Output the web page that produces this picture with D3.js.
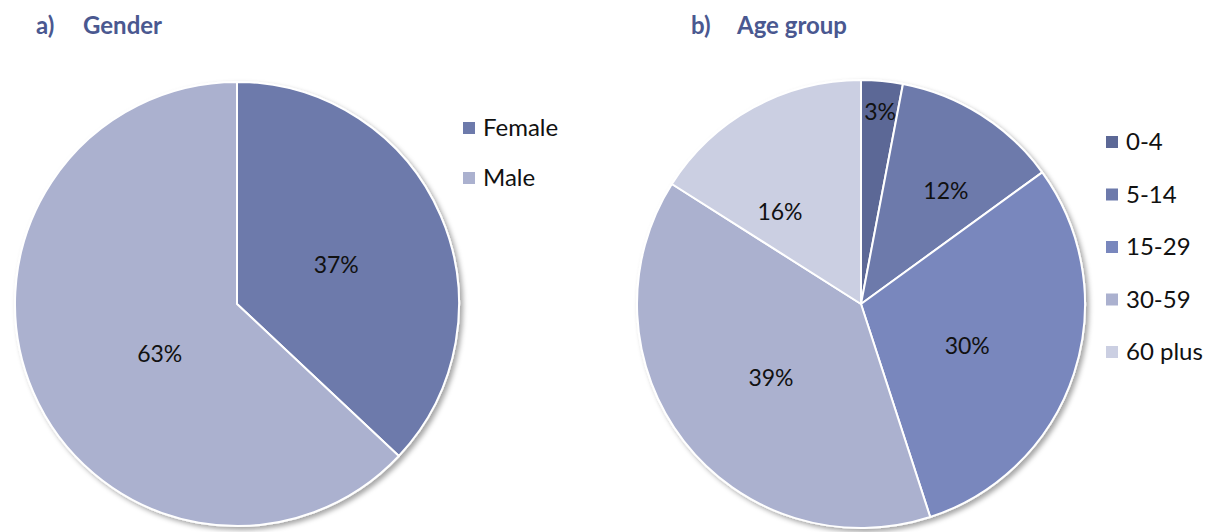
<!DOCTYPE html>
<html><head><meta charset="utf-8">
<script src="https://cdn.jsdelivr.net/npm/d3@7/dist/d3.min.js"></script>
<style>body{margin:0;background:#fff;} svg{display:block;}</style>
</head><body>
<svg id="chart" width="1207" height="532"></svg>
<script>
const genderCategories = ["Female", "Male"];
const genderValues = [37, 63];
const genderColors = ["#6d7aab", "#abb1cf"];

const ageCategories = ["0-4", "5-14", "15-29", "30-59", "60 plus"];
const ageValues = [3, 12, 30, 39, 16];
const ageColors = ["#5c6896", "#6d7aab", "#7987bd", "#abb1cf", "#cbcfe2"];

const titles = [["a)", "Gender"], ["b)", "Age group"]];

const svg = d3.select("#chart");
const font = "Lato, 'Open Sans', sans-serif";

const defs = svg.append("defs");
const f = defs.append("filter").attr("id", "sh").attr("x", "-10%").attr("y", "-10%").attr("width", "125%").attr("height", "125%");
f.append("feDropShadow").attr("dx", 3).attr("dy", 3).attr("stdDeviation", 2.5).attr("flood-color", "#000").attr("flood-opacity", 0.35);

function drawPie(cfg) {
  const g = svg.append("g").attr("transform", `translate(${cfg.cx},${cfg.cy})`);
  const data = cfg.cats.map((c, i) => ({cat: c, value: cfg.values[i], color: cfg.colors[i]}));
  const pie = d3.pie().value(d => d.value).sort(null);
  const arcs = pie(data);
  const arc = d3.arc().innerRadius(0).outerRadius(cfg.r);
  const total = d3.sum(cfg.values);
  g.append("g").attr("filter", "url(#sh)")
    .selectAll("path").data(arcs).join("path")
    .attr("d", arc).attr("fill", d => d.data.color)
    .attr("stroke", "#fff").attr("stroke-width", 2).attr("stroke-linejoin", "round");
  g.selectAll("text.lbl").data(arcs).join("text").attr("class", "lbl")
    .attr("transform", (d, i) => {
      const lr = cfg.r * cfg.labelFrac[i];
      const a = (d.startAngle + d.endAngle) / 2 + cfg.labelShift[i];
      return `translate(${Math.sin(a) * lr},${-Math.cos(a) * lr})`;
    })
    .attr("text-anchor", "middle").attr("dy", "0.35em")
    .attr("font-family", font).attr("font-size", 23).attr("fill", "#111")
    .text(d => Math.round(d.data.value / total * 100) + "%");

  const lg = svg.append("g").attr("transform", `translate(${cfg.lx},${cfg.ly})`);
  const items = lg.selectAll("g").data(data).join("g")
    .attr("transform", (d, i) => `translate(0,${i * cfg.lstep})`);
  items.append("rect").attr("x", 0).attr("y", -6).attr("width", 12).attr("height", 12).attr("fill", d => d.color);
  items.append("text").attr("x", 20).attr("y", 0).attr("dy", "0.35em")
    .attr("font-family", font).attr("font-size", 24).attr("fill", "#111").text(d => d.cat);
}

drawPie({cx: 237, cy: 304, r: 222, cats: genderCategories, values: genderValues, colors: genderColors,
  labelFrac: [0.48, 0.415], labelShift: [0.035, -0.167], lx: 463, ly: 128, lstep: 50});
drawPie({cx: 861, cy: 304, r: 224, cats: ageCategories, values: ageValues, colors: ageColors,
  labelFrac: [0.86, 0.63, 0.51, 0.52, 0.547], labelShift: [0.005, 0.08, 0.063, -0.028, -0.22],
  lx: 1106, ly: 142, lstep: 52.5});

const tpos = [[36, 83], [691, 737]];
titles.forEach((t, i) => {
  svg.append("text").attr("x", tpos[i][0]).attr("y", 34).attr("font-family", font).attr("font-weight", "bold")
    .attr("font-size", 24).attr("fill", "#4a5890").text(t[0]);
  svg.append("text").attr("x", tpos[i][1]).attr("y", 34).attr("font-family", font).attr("font-weight", "bold")
    .attr("font-size", 24).attr("fill", "#4a5890").text(t[1]);
});
</script>
</body></html>
